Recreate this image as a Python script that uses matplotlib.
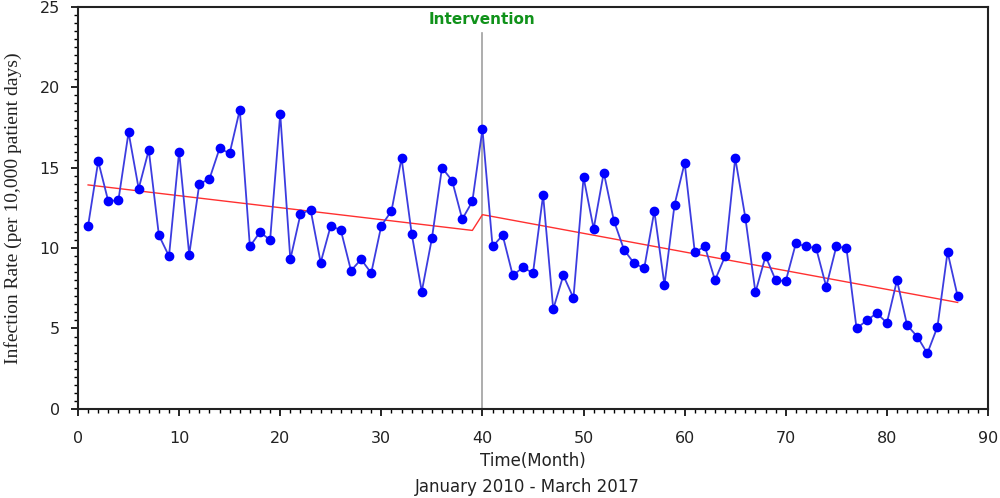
import matplotlib.pyplot as plt
from matplotlib.ticker import MultipleLocator

# monthly infection rate, Jan 2010 - Mar 2017
months = list(range(1, 88))
rates = [11.4, 15.4, 12.9, 13.0, 17.2, 13.7, 16.1, 10.8, 9.5, 16.0,
         9.6, 14.0, 14.3, 16.2, 15.9, 18.6, 10.1, 11.0, 10.5, 18.35,
         9.3, 12.1, 12.4, 9.1, 11.4, 11.1, 8.6, 9.3, 8.45, 11.4,
         12.3, 15.6, 10.9, 7.3, 10.6, 15.0, 14.2, 11.8, 12.9, 17.4,
         10.1, 10.8, 8.3, 8.8, 8.45, 13.3, 6.2, 8.3, 6.9, 14.4,
         11.2, 14.7, 11.7, 9.9, 9.05, 8.75, 12.3, 7.7, 12.7, 15.3,
         9.75, 10.1, 8.0, 9.5, 15.6, 11.9, 7.25, 9.5, 8.0, 7.95,
         10.3, 10.1, 10.0, 7.6, 10.1, 10.0, 5.0, 5.5, 5.95, 5.35,
         8.0, 5.2, 4.5, 3.45, 5.1, 9.75, 7.0]

# segmented regression fit (pre / post intervention)
trend_x = [1, 39, 40, 87]
trend_y = [13.93, 11.1, 12.08, 6.62]

intervention = 40

fig = plt.figure(figsize=(10, 4.98), dpi=100)
ax = fig.add_axes([0.078, 0.179, 0.910, 0.807])

ax.plot(trend_x, trend_y, color='#ff3030', linewidth=1.0, zorder=2)
ax.plot(months, rates, color='#3c3ce0', linewidth=1.3, marker='o',
        markersize=6, markerfacecolor='#0000ff', markeredgecolor='#0000ff', zorder=3)

ax.plot([intervention, intervention], [0, 23.4], color='#a0a0a0', linewidth=1.2, zorder=1)
ax.text(intervention, 24.2, 'Intervention', color='#10921a', fontweight='bold',
        fontsize=11, ha='center', va='center', family='DejaVu Sans')

ax.set_xlim(0, 90)
ax.set_ylim(0, 25)
ax.xaxis.set_major_locator(MultipleLocator(10))
ax.xaxis.set_minor_locator(MultipleLocator(1))
ax.yaxis.set_major_locator(MultipleLocator(5))
ax.yaxis.set_minor_locator(MultipleLocator(0.5))
ax.tick_params(which='major', length=5, width=1.2, labelsize=11.5, direction='out')
ax.tick_params(which='minor', length=3, width=1.0, direction='out')
ax.tick_params(axis='x', which='major', pad=11)
ax.tick_params(axis='y', which='major', pad=8)
for lab in ax.get_xticklabels() + ax.get_yticklabels():
    lab.set_family('DejaVu Sans')
    lab.set_color('#222222')

for s in ax.spines.values():
    s.set_linewidth(1.5)
    s.set_color('#222222')

ax.set_xlabel('Time(Month)', fontsize=12, family='DejaVu Sans', labelpad=4,
              color='#222222')
ax.set_ylabel('Infection Rate (per 10,000 patient days)', fontsize=14,
              family='Liberation Serif', color='#222222')
ax.yaxis.set_label_coords(-0.061, 0.5)
fig.text(0.527, 0.022, 'January 2010 - March 2017', fontsize=12,
         family='DejaVu Sans', ha='center', va='center', color='#222222')

fig.savefig('out.png', dpi=100)
